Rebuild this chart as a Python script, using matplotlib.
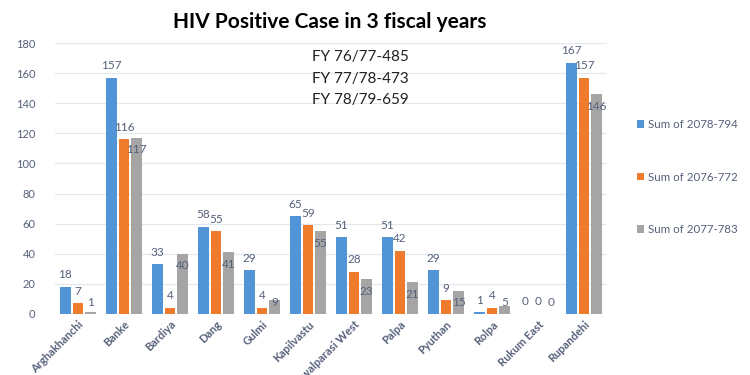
import matplotlib
matplotlib.use("Agg")
import matplotlib.pyplot as plt
import numpy as np

districts = ["Arghakhanchi", "Banke", "Bardiya", "Dang", "Gulmi", "Kapilvastu",
             "Nawalparasi West", "Palpa", "Pyuthan", "Rolpa", "Rukum East", "Rupandehi"]
fy_2078 = [18, 157, 33, 58, 29, 65, 51, 51, 29, 1, 0, 167]
fy_2076 = [7, 116, 4, 55, 4, 59, 28, 42, 9, 4, 0, 157]
fy_2077 = [1, 117, 40, 41, 9, 55, 23, 21, 15, 5, 0, 146]
series_names = ["Sum of 2078-794", "Sum of 2076-772", "Sum of 2077-783"]
fy_notes = ["FY 76/77-485", "FY 77/78-473", "FY 78/79-659"]

colors = ["#5295d6", "#ef7b2c", "#a5a5a5"]
text_col = "#55607a"

plt.rcParams["font.family"] = ["Lato", "DejaVu Sans"]

fig = plt.figure(figsize=(7.5, 3.75), dpi=100)
ax = fig.add_axes([0.0733, 0.1627, 0.736, 0.7226])

x = np.arange(len(districts))
width = 0.23
step = 0.275
series = [fy_2078, fy_2076, fy_2077]

for i, (vals, col, name) in enumerate(zip(series, colors, series_names)):
    pos = x + (i - 1) * step
    ax.bar(pos, vals, width, color=col, label=name, zorder=2)
    for px, v in zip(pos, vals):
        if i == 2:
            # gray labels sit inside the bar top, clamped above the axis
            ly = max(v - 8, 7.5)
        else:
            ly = v + 8
        ax.text(px, ly, str(v), ha="center", va="center", fontsize=8.5,
                color=text_col, zorder=3)

ax.set_xlim(-0.5, len(districts) - 0.5)
ax.set_ylim(0, 180)
ax.set_yticks(np.arange(0, 181, 20))
ax.yaxis.grid(True, color="#e3e8ee", linewidth=0.9, zorder=0)
ax.set_axisbelow(True)
for s in ax.spines.values():
    s.set_visible(False)
ax.tick_params(axis="both", length=0, colors=text_col, labelsize=8)
ax.tick_params(axis="y", pad=14)
ax.set_xticks(x)
ax.set_xticklabels(districts, rotation=45, ha="right", rotation_mode="anchor",
                   fontsize=8, fontweight="bold", color=text_col)

fig.text(0.44, 0.94, "HIV Positive Case in 3 fiscal years", ha="center", va="center",
         fontsize=15, fontweight="bold", color="black")

for k, note in enumerate(fy_notes):
    ax.text(0.465, 0.95 - k * 0.081, note, transform=ax.transAxes, ha="left",
            va="center", fontsize=11, color="#222222")

ax.legend(loc="center left", bbox_to_anchor=(1.035, 0.505), frameon=False,
          fontsize=8.3, labelcolor=text_col, handlelength=0.6, handleheight=0.6,
          handletextpad=0.4, labelspacing=3.6)

fig.savefig("out.png", dpi=100, facecolor="white")
